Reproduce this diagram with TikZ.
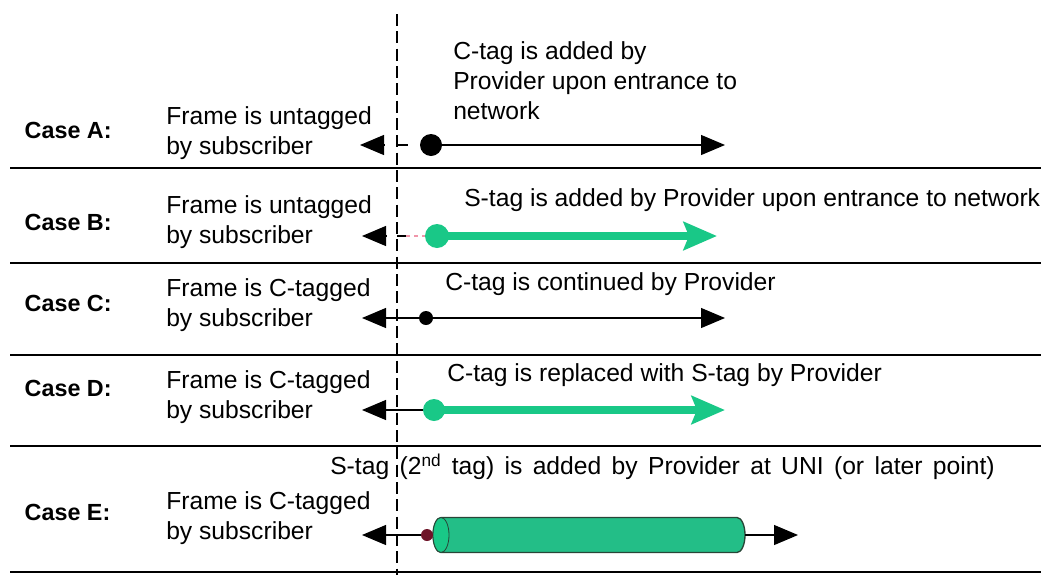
\documentclass[tikz,border=0pt]{standalone}
\usepackage{fontspec}
\setmainfont{Liberation Sans}
\usetikzlibrary{arrows.meta}
\definecolor{tagGreen}{RGB}{25,200,135}
\definecolor{cylGreen}{RGB}{35,190,135}
\definecolor{cylEdge}{RGB}{40,70,55}
\definecolor{tagDark}{RGB}{110,20,40}
\definecolor{tagPink}{RGB}{240,150,170}
\tikzset{
  caselabel/.style={anchor=west,font=\fontsize{17.5}{21}\selectfont\bfseries},
  frametext/.style={anchor=west,align=left,inner sep=0pt,font=\fontsize{18.5}{22.5}\selectfont},
  notetext/.style={anchor=west,align=left,inner sep=0pt,font=\fontsize{18.5}{22.5}\selectfont},
  sepline/.style={line width=1.1pt},
  uniline/.style={line width=1.6pt,dash pattern=on 9pt off 4pt},
  blackarr/.style={line width=0.9pt,-{Triangle[length=18pt,width=15pt]}},
  greenarr/.style={line width=6pt,color=tagGreen,-{Stealth[length=25pt,width=21pt,inset=4pt]}},
  tube/.style={fill=cylGreen,draw=cylEdge,line width=1pt},
}
\begin{document}
\begin{tikzpicture}[x=0.75pt,y=-0.75pt]
\useasboundingbox (0,0) rectangle (1041,575);

% separators and the UNI line
\foreach \yy in {168,263,355,446,572}
  \draw[sepline] (10,\yy) -- (1041,\yy);
\draw[uniline] (397,14) -- (397,575);

% case labels
\node[caselabel] (caseA) at (20,130) {Case A:};
\node[caselabel] (caseB) at (20,222) {Case B:};
\node[caselabel] (caseC) at (20,303) {Case C:};
\node[caselabel] (caseD) at (20,388) {Case D:};
\node[caselabel] (caseE) at (20,512) {Case E:};

% subscriber side
\node[frametext] (frameA) at (166,133) {Frame is untagged\\by subscriber};
\node[frametext] (frameB) at (166,222) {Frame is untagged\\by subscriber};
\node[frametext] (frameC) at (166,305) {Frame is C-tagged\\by subscriber};
\node[frametext] (frameD) at (166,397) {Frame is C-tagged\\by subscriber};
\node[frametext] (frameE) at (166,518) {Frame is C-tagged\\by subscriber};

% provider side
\node[notetext] (noteA) at (453,81) {C-tag is added by\\Provider upon entrance to\\network};
\node[notetext] (noteB) at (464,200) {S-tag is added by Provider upon entrance to network};
\node[notetext] (noteC) at (445,284) {C-tag is continued by Provider};
\node[notetext] (noteD) at (447,375) {C-tag is replaced with S-tag by Provider};
\node[notetext] (noteE) at (330,467) {\spaceskip=0.42em S-tag (2\textsuperscript{nd} tag) is added by Provider at UNI (or later point)};

% case A
\coordinate (A-l) at (360,145);
\coordinate (A-b) at (384,145);
\coordinate (A-s) at (408,145);
\coordinate (A-u) at (397,145);
\coordinate (A-dot) at (431,145);
\coordinate (A-r) at (725,145);
\draw[blackarr] (A-b) -- (A-l);
\draw[line width=1.5pt] (A-u) -- (A-s);
\fill (A-dot) circle[radius=11];
\draw[blackarr] (A-dot) -- (A-r);

% case B
\coordinate (B-l) at (362,236);
\coordinate (B-b) at (386,236);
\coordinate (B-u) at (397,236);
\coordinate (B-s) at (406,236);
\coordinate (B-dot) at (437,236);
\coordinate (B-r) at (717,236);
\draw[blackarr] (B-b) -- (B-l);
\draw[line width=1.5pt] (B-u) -- (B-s);
\draw[tagPink,line width=1pt,dashed] (B-s) -- (B-dot);
\draw[greenarr] (B-dot) -- (B-r);
\fill[tagGreen] (B-dot) circle[radius=12];

% case C
\coordinate (C-l) at (362,318);
\coordinate (C-dot) at (426,318);
\coordinate (C-r) at (725,318);
\draw[blackarr] (C-dot) -- (C-l);
\fill (C-dot) circle[radius=7];
\draw[blackarr] (C-dot) -- (C-r);

% case D
\coordinate (D-l) at (362,410);
\coordinate (D-cap) at (434,410);
\coordinate (D-r) at (725,410);
\draw[blackarr] (D-cap) -- (D-l);
\fill[tagGreen] (D-cap) circle[radius=11];
\draw[greenarr] (D-cap) -- (D-r);

% case E
\coordinate (E-l) at (362,535);
\coordinate (E-dot) at (427,535);
\coordinate (E-cyl) at (433,535);
\coordinate (E-cylR) at (745,535);
\coordinate (E-r) at (798,535);
\draw[tube] (441,517.5) -- (737,517.5)
  arc[start angle=-90,end angle=90,x radius=8,y radius=17.5]
  -- (441,552.5)
  arc[start angle=90,end angle=270,x radius=8,y radius=17.5] -- cycle;
\draw[fill=tagGreen,draw=cylEdge,line width=0.6pt] (441,535) ellipse[x radius=8,y radius=17.5];
\draw[blackarr] (E-dot) -- (E-l);
\fill[tagDark] (E-dot) circle[radius=6];
\draw[blackarr] (E-cylR) -- (E-r);
\end{tikzpicture}
\end{document}
